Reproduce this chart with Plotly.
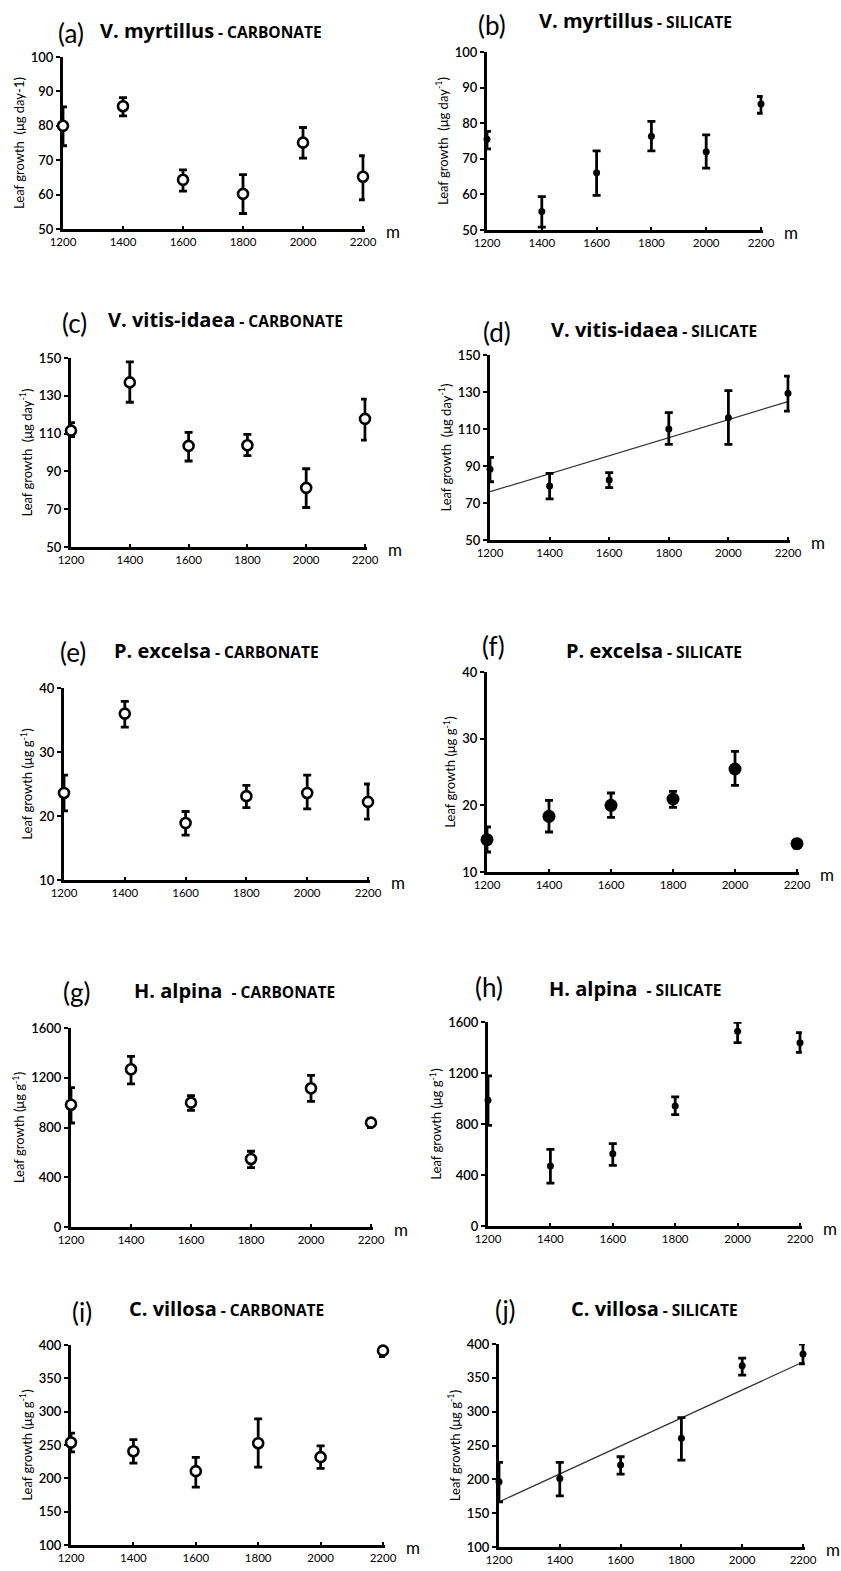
import plotly.graph_objects as go

W, H = 841, 1571

altitude = [1200, 1400, 1600, 1800, 2000, 2200]
x_ticks = [1200, 1400, 1600, 1800, 2000, 2200]

# (a) V. myrtillus - carbonate
a_mean = [80.0, 85.7, 64.3, 60.2, 75.1, 65.2]
a_hi = [85.5, 88.2, 67.2, 65.8, 79.5, 71.3]
a_lo = [74.2, 82.9, 61.0, 54.5, 70.6, 58.5]
# (b) V. myrtillus - silicate
b_mean = [75.5, 55.2, 66.1, 76.3, 72.0, 85.4]
b_hi = [77.7, 59.4, 72.2, 80.5, 76.7, 87.5]
b_lo = [72.8, 50.8, 59.7, 72.2, 67.4, 82.8]
# (c) V. vitis-idaea - carbonate
c_mean = [111.6, 137.1, 103.5, 103.8, 81.3, 117.8]
c_hi = [115.8, 147.9, 110.7, 109.6, 91.4, 128.2]
c_lo = [108.4, 126.6, 95.5, 98.3, 70.9, 106.6]
# (d) V. vitis-idaea - silicate
d_mean = [88.2, 79.2, 82.4, 110.0, 116.1, 129.3]
d_hi = [94.7, 86.0, 86.4, 118.8, 130.7, 138.6]
d_lo = [81.5, 72.2, 78.3, 101.7, 101.7, 119.7]
d_trend_x = [1200, 2200]
d_trend_y = [76.1, 124.8]
# (e) P. excelsa - carbonate
e_mean = [23.6, 36.0, 18.9, 23.1, 23.6, 22.2]
e_hi = [26.4, 37.9, 20.7, 24.8, 26.4, 25.0]
e_lo = [20.8, 33.9, 17.0, 21.3, 21.1, 19.5]
# (f) P. excelsa - silicate
f_mean = [14.85, 18.35, 20.0, 20.95, 25.45, 14.25]
f_hi = [16.75, 20.75, 21.85, 22.1, 28.1, 14.85]
f_lo = [13.0, 16.0, 18.2, 19.7, 23.0, 13.6]
# (g) H. alpina - carbonate
g_mean = [983, 1268, 1000, 547, 1115, 839]
g_hi = [1120, 1372, 1056, 609, 1219, 871]
g_lo = [836, 1150, 938, 477, 1010, 799]
# (h) H. alpina - silicate
h_mean = [986, 471, 567, 941, 1527, 1438]
h_hi = [1177, 601, 646, 1012, 1597, 1516]
h_lo = [789, 337, 476, 873, 1438, 1362]
# (i) C. villosa - carbonate
i_mean = [253.7, 240.7, 210.8, 252.7, 231.8, 391.5]
i_hi = [267.7, 258.2, 231.3, 289.2, 248.8, 396.0]
i_lo = [239.8, 222.8, 186.8, 216.8, 214.8, 382.5]
# (j) C. villosa - silicate
j_mean = [196.4, 201.3, 221.0, 260.6, 367.9, 385.2]
j_hi = [225.0, 225.0, 233.4, 291.2, 379.2, 400.0]
j_lo = [166.7, 175.6, 207.7, 228.5, 354.0, 370.8]
j_trend_x = [1200, 2200]
j_trend_y = [166.7, 373.3]

YT_A = "Leaf growth&nbsp;&nbsp;(μg day-1)"
YT_D = "Leaf growth&nbsp;&nbsp;(μg day<sup>-1</sup>)"
YT_G = "Leaf growth (μg g<sup>-1</sup>)"

# panel layout: (letter, species, substrate, mean, hi, lo, yrange, dtick, ytitle, marker,
#                plot box px (x0, x1, ytop, ybot), letter pos, title pos, trend)
panels = [
    ("(a)", "V. myrtillus", "CARBONATE", a_mean, a_hi, a_lo, [50, 100], 10, YT_A, "open",
     (63, 363, 57, 229), (56, 33), (98, 31), None),
    ("(b)", "V. myrtillus", "SILICATE", b_mean, b_hi, b_lo, [50, 100], 10, YT_D, "dot",
     (487, 761, 52, 230), (476, 25), (537, 21), None),
    ("(c)", "V. vitis-idaea", "CARBONATE", c_mean, c_hi, c_lo, [50, 150], 20, YT_D, "open",
     (71, 365, 358, 547), (60, 323), (106, 319), None),
    ("(d)", "V. vitis-idaea", "SILICATE", d_mean, d_hi, d_lo, [50, 150], 20, YT_D, "dot",
     (490, 788, 355, 540), (481, 332), (549, 330), (d_trend_x, d_trend_y)),
    ("(e)", "P. excelsa", "CARBONATE", e_mean, e_hi, e_lo, [10, 40], 10, YT_G, "open",
     (64, 368, 688, 880), (58, 652), (112, 650), None),
    ("(f)", "P. excelsa", "SILICATE", f_mean, f_hi, f_lo, [10, 40], 10, YT_G, "bigdot",
     (487, 797, 672, 872), (480, 646), (564, 650), None),
    ("(g)", "H. alpina&nbsp;", "CARBONATE", g_mean, g_hi, g_lo, [0, 1600], 400, YT_G, "open",
     (71, 371, 1028, 1227), (61, 992), (132, 990), None),
    ("(h)", "H. alpina&nbsp;", "SILICATE", h_mean, h_hi, h_lo, [0, 1600], 400, YT_G, "dot",
     (488, 800, 1022, 1226), (473, 987), (547, 988), None),
    ("(i)", "C. villosa", "CARBONATE", i_mean, i_hi, i_lo, [100, 400], 50, YT_G, "open",
     (71, 383, 1345, 1545), (70, 1312), (127, 1308), None),
    ("(j)", "C. villosa", "SILICATE", j_mean, j_hi, j_lo, [100, 400], 50, YT_G, "dot",
     (499, 803, 1344, 1547), (493, 1310), (569, 1308), (j_trend_x, j_trend_y)),
]

FONT = "Lato"
X_PAD = 6  # small right-side range padding so edge error bars are not clipped
fig = go.Figure()
annotations = []
layout = {}

def px_x(v):
    return v / W

def px_y(v):
    return 1 - v / H

for k, (letter, species, substrate, mean, hi, lo, yr, dt, ytitle, mk,
        box, lpos, tpos, trend) in enumerate(panels, start=1):
    xa = "x" if k == 1 else f"x{k}"
    ya = "y" if k == 1 else f"y{k}"
    up = [h_ - m for h_, m in zip(hi, mean)]
    dn = [m - l_ for l_, m in zip(lo, mean)]
    if mk == "open":
        marker = dict(symbol="circle", size=10, color="white",
                      line=dict(color="black", width=2.6))
    elif mk == "dot":
        marker = dict(symbol="circle", size=7, color="black")
    else:
        marker = dict(symbol="circle", size=13, color="black")
    if trend is not None:
        fig.add_trace(go.Scatter(x=trend[0], y=trend[1], mode="lines",
                                 line=dict(color="#333333", width=1.2),
                                 xaxis=xa, yaxis=ya, showlegend=False,
                                 cliponaxis=False))
    fig.add_trace(go.Scatter(
        x=altitude, y=mean, mode="markers", marker=marker,
        error_y=dict(type="data", symmetric=False, array=up, arrayminus=dn,
                     color="black", thickness=2.8, width=4),
        xaxis=xa, yaxis=ya, showlegend=False, cliponaxis=False))

    x0, x1, yt, yb = box
    span = x1 - x0
    padpx = span * X_PAD / 1000.0
    layout["xaxis" if k == 1 else f"xaxis{k}"] = dict(
        domain=[px_x(x0), px_x(x1 + padpx)],
        range=[1200, 2200 + X_PAD], anchor=ya,
        tickvals=x_ticks, ticks="inside", ticklen=3, tickwidth=2, tickcolor="black",
        showline=True, linewidth=3, linecolor="black", showgrid=False, zeroline=False,
        tickfont=dict(family=FONT, size=11.5, color="black"), layer="below traces",
    )
    layout["yaxis" if k == 1 else f"yaxis{k}"] = dict(
        domain=[px_y(yb), px_y(yt)], range=yr, tick0=yr[0], dtick=dt, anchor=xa,
        ticks="outside", ticklen=4, tickwidth=2, tickcolor="black",
        showline=True, linewidth=3, linecolor="black", showgrid=False, zeroline=False,
        tickfont=dict(family=FONT, size=13, color="black", weight=600),
        title=dict(text=ytitle, font=dict(family=FONT, size=13, color="black"), standoff=4),
        layer="below traces",
    )
    # "m" unit label
    annotations.append(dict(text="m", xref=xa, yref=f"{ya} domain", x=2200, y=0,
                            xshift=30, yshift=-15, showarrow=False,
                            font=dict(family=FONT, size=17, color="black")))
    # panel letter
    annotations.append(dict(text=letter, xref="paper", yref="paper",
                            x=px_x(lpos[0]), y=px_y(lpos[1]), xanchor="left", yanchor="middle",
                            showarrow=False, font=dict(family=FONT, size=26, color="black")))
    # species title
    annotations.append(dict(
        text=f"<b>{species}</b><b><span style='font-size:15.5px'> - {substrate}</span></b>",
        xref="paper", yref="paper", x=px_x(tpos[0]), y=px_y(tpos[1]),
        xanchor="left", yanchor="middle", showarrow=False,
        font=dict(family="Open Sans", size=20, color="black")))

fig.update_layout(
    width=W, height=H, margin=dict(l=0, r=0, t=0, b=0, autoexpand=False),
    paper_bgcolor="white", plot_bgcolor="white",
    annotations=annotations, **layout,
)

fig.write_html("out.html", config={"displayModeBar": False},
               post_script="document.body.style.margin='0';document.body.style.padding='0';")
